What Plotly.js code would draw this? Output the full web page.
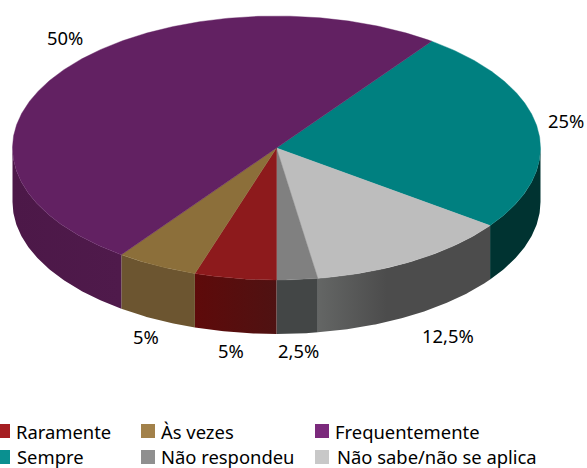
<!DOCTYPE html>
<html>
<head>
<meta charset="utf-8">
<script src="https://cdn.plot.ly/plotly-3.0.1.min.js"></script>
<style>html,body{margin:0;padding:0;background:#fff;overflow:hidden}#chart{width:587px;height:468px}</style>
</head>
<body>
<div id="chart"></div>
<script>
// Data, clockwise from the start angle
const categories = ["Sempre", "Não sabe/não se aplica", "Não respondeu", "Raramente", "Às vezes", "Frequentemente"];
const shares = [25, 12.5, 2.5, 5, 5, 50];
const shareLabels = ["25%", "12,5%", "2,5%", "5%", "5%", "50%"];
const topColors = ["#008080", "#bdbdbd", "#808080", "#8d1a1c", "#8c6f3a", "#622162"];
const wallStart = ["#003331", "#646665", "#434646", "#5e0a0a", "#6c5530", "#4c1848"];
const wallStop = ["#003331", "#4c4c4c", "#434646", "#4f1212", "#6c5530", "#4f1a4b"];
const wallStopAt = [1, 0.4, 1, 1, 1, 1];
const swatchColors = ["#0a9090", "#c8c8c8", "#8f8f8f", "#a51e22", "#a2814a", "#7b2a7c"];

// Layout settings
const W = 587, H = 468;
const CX = 276.5, CY = 148, RX = 264, RY = 132, DEPTH = 54, START = 54;
const labelX = [566, 448, 298, 231, 146, 65];
const labelY = [120, 335, 350, 350, 336, 37];
const legendTextX = [18, 338, 162, 17, 162, 336];
const legendSwatchX = [-4, 315, 141, -4, 141, 315];
const legendRowY = [456, 456, 456, 431, 431, 431];
const swatchRowY = [457, 457, 457, 431, 431, 431];
const FONT = "Noto Sans, Open Sans, sans-serif";
const FONT_SIZE = 18.4;

const rad = d => d * Math.PI / 180;
const px = a => CX + RX * Math.cos(rad(a));
const py = (a, dz) => CY - RY * Math.sin(rad(a)) + (dz || 0);
function arc(a0, a1) {
  const n = Math.max(2, Math.ceil(Math.abs(a1 - a0) * 2));
  const out = [];
  for (let i = 0; i <= n; i++) out.push(a0 + (a1 - a0) * i / n);
  return out;
}

const total = shares.reduce((s, v) => s + v, 0);
const traces = [], topTraces = [];
let angle = START;
shares.forEach((v, i) => {
  const end = angle - v / total * 360;
  // visible wall: the front half of the rim, angles 0 to -180
  const w0 = Math.min(angle, 0), w1 = Math.max(end, -180);
  if (w0 > w1) {
    const a = arc(w0, w1), b = a.slice().reverse();
    const scale = [[0, wallStart[i]], [wallStopAt[i], wallStop[i]]];
    if (wallStopAt[i] < 1) scale.push([1, wallStop[i]]);
    traces.push({
      type: "scatter", mode: "lines", name: categories[i] + " (lateral)",
      x: a.map(t => px(t)).concat(b.map(t => px(t))),
      y: a.map(t => py(t)).concat(b.map(t => py(t, DEPTH))),
      fill: "toself", line: {width: 0},
      fillgradient: {type: "horizontal", colorscale: scale},
      hoverinfo: "skip", showlegend: false
    });
  }
  const a = arc(angle, end);
  topTraces.push({
    type: "scatter", mode: "lines", name: categories[i],
    x: [CX].concat(a.map(t => px(t)), [CX]),
    y: [CY].concat(a.map(t => py(t)), [CY]),
    fill: "toself", fillcolor: topColors[i], line: {width: 0.4, color: topColors[i]},
    hoverinfo: "skip", showlegend: false
  });
  angle = end;
});

const annotations = [];
shareLabels.forEach((t, i) => annotations.push({
  x: labelX[i], y: labelY[i], xref: "x", yref: "y", text: t, showarrow: false,
  xanchor: "center", yanchor: "middle", font: {family: FONT, size: FONT_SIZE, color: "#000"}
}));
categories.forEach((t, i) => annotations.push({
  x: legendTextX[i], y: legendRowY[i], xref: "x", yref: "y", text: t, showarrow: false,
  xanchor: "left", yanchor: "middle", xshift: -1, borderpad: 0, borderwidth: 0,
  font: {family: FONT, size: FONT_SIZE, color: "#000"}
}));
const shapes = categories.map((t, i) => ({
  type: "rect", xref: "x", yref: "y", layer: "above",
  x0: legendSwatchX[i], x1: legendSwatchX[i] + 14,
  y0: swatchRowY[i] - 7, y1: swatchRowY[i] + 7,
  fillcolor: swatchColors[i], line: {width: 0}
}));

Plotly.newPlot("chart", traces.concat(topTraces), {
  width: W, height: H, margin: {l: 0, r: 0, t: 0, b: 0, pad: 0},
  paper_bgcolor: "#fff", plot_bgcolor: "#fff", showlegend: false,
  xaxis: {range: [0, W], visible: false, fixedrange: true},
  yaxis: {range: [H, 0], visible: false, fixedrange: true},
  annotations, shapes
}, {displayModeBar: false, staticPlot: true});
</script>
</body>
</html>
